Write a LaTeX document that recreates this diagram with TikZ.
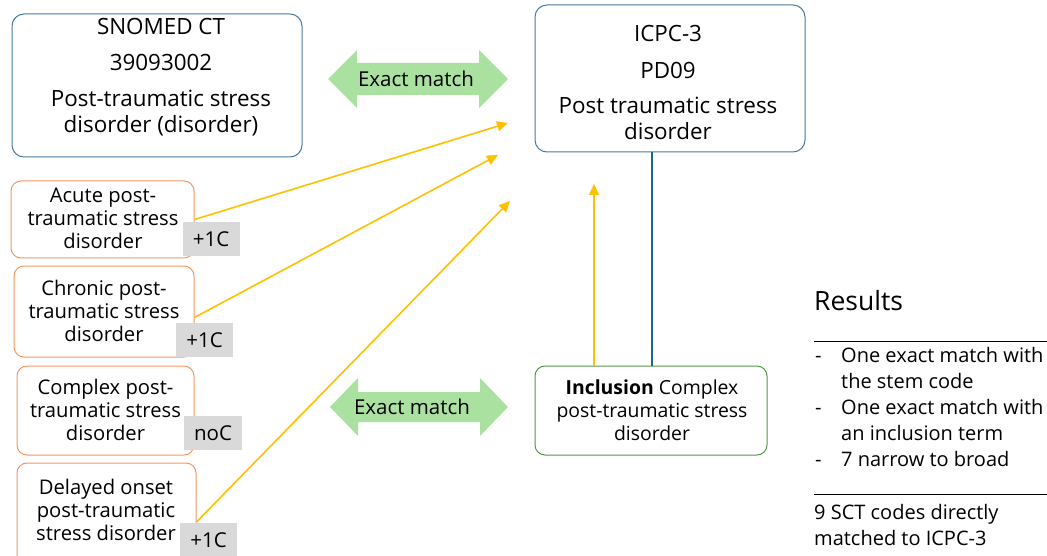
\documentclass[tikz,border=0pt]{standalone}
\usepackage{fontspec}
\setmainfont{Open Sans}
\usetikzlibrary{arrows.meta}
\definecolor{bluebd}{RGB}{72,122,160}
\definecolor{orangebd}{RGB}{242,150,100}
\definecolor{greenbd}{RGB}{84,150,72}
\definecolor{yellowar}{RGB}{255,192,0}
\definecolor{greenar}{RGB}{170,225,160}
\definecolor{tagfill}{RGB}{217,217,217}
\definecolor{linkblue}{RGB}{30,100,150}
\tikzset{
  bigbox/.style={draw=bluebd, line width=1pt, rounded corners=12pt, minimum width=#1},
  obox/.style={draw=orangebd, line width=1pt, rounded corners=10pt},
  ibox/.style={draw=greenbd, line width=1pt, rounded corners=10pt},
  tag/.style={fill=tagfill, inner sep=0pt, font=\fontsize{20.5}{23}\selectfont},
  otext/.style={align=center, inner sep=0pt, font=\fontsize{20.2}{23}\selectfont},
  btext/.style={align=center, inner sep=0pt, font=\fontsize{22.4}{26}\selectfont},
  rtext/.style={align=left, anchor=base west, inner sep=0pt, font=\fontsize{20}{26}\selectfont},
  yarrow/.style={draw=yellowar, line width=1.6pt, -{Triangle[length=11pt,width=10pt]}},
  garrow/.style={fill=greenar, draw=none},
}
\begin{document}
\begin{tikzpicture}[x=1pt,y=-1pt]
\useasboundingbox (0,0) rectangle (1047,556);

% main boxes
\node[bigbox=290pt, minimum height=143pt] (snomed) at (157,85.5) {};
\node[btext] (snomedtxt) at (161,77.5) {SNOMED CT\\[10pt]39093002\\[10pt]Post-traumatic stress\\disorder (disorder)};
\node[bigbox=270pt, minimum height=147pt] (icpc) at (670,78.5) {};
\node[btext] (icpctxt) at (668,82.5) {ICPC-3\\[11pt]PD09\\[10pt]Post traumatic stress\\disorder};

% orange boxes
\node[obox, minimum width=183pt, minimum height=77pt] (acute) at (102.5,219.5) {};
\node[otext] (acutetxt) at (103,218.5) {Acute post-\\traumatic stress\\disorder};
\node[obox, minimum width=180pt, minimum height=91pt] (chronic) at (104,311.5) {};
\node[otext] (chronictxt) at (104,311) {Chronic post-\\traumatic stress\\disorder};
\node[obox, minimum width=177pt, minimum height=89pt] (complex) at (105.5,410.5) {};
\node[otext] (complextxt) at (105.5,410) {Complex post-\\traumatic stress\\disorder};
\node[obox, minimum width=179pt, minimum height=118pt] (delayed) at (106.5,522) {};
\node[otext] (delayedtxt) at (106,510) {Delayed onset\\post-traumatic\\stress disorder};

% tags
\node[tag, minimum width=57pt, minimum height=34pt] (tag1) at (211,239) {+1C};
\node[tag, minimum width=57pt, minimum height=34pt] (tag2) at (204.5,340) {+1C};
\node[tag, minimum width=58pt, minimum height=34pt] (tag3) at (213,433) {noC};
\node[tag, minimum width=57pt, minimum height=34pt] (tag4) at (208.5,540) {+1C};

% inclusion box
\node[ibox, minimum width=232pt, minimum height=89pt] (incl) at (651,410.5) {};
\node[otext, font=\fontsize{19.4}{23}\selectfont] (incltxt) at (652,410) {\textbf{Inclusion} Complex\\post-traumatic stress\\disorder};

% green double arrows
\path[garrow] (328,79) -- (357,50) -- (357,63) -- (479,63) -- (479,50) -- (508,79) -- (479,108) -- (479,95) -- (357,95) -- (357,108) -- cycle;
\node[otext, font=\fontsize{20.5}{23}\selectfont] (em1) at (416,79) {Exact match};
\path[garrow] (330,407) -- (358,378) -- (358,392) -- (480,392) -- (480,378) -- (508,407) -- (480,436) -- (480,422) -- (358,422) -- (358,436) -- cycle;
\node[otext, font=\fontsize{20.5}{23}\selectfont] (em2) at (412,407) {Exact match};

% connectors
\coordinate (t1) at (508,123);
\coordinate (t2) at (498,155);
\coordinate (t3) at (510,201);
\coordinate (t4) at (594,184);
\coordinate (b1) at (652,0);
\draw[yarrow] (acute.east) -- (t1);
\draw[yarrow] (chronic.east) ++(0,6) -- (t2);
\draw[yarrow] (delayed.east) -- (t3);
\draw[yarrow] (incl.north -| t4) -- (t4);
\draw[draw=linkblue, line width=1.3pt] (icpc.south -| b1) -- (incl.north -| b1);

% results
\node[anchor=west, inner sep=0pt, font=\fontsize{26.5}{30}\selectfont] (res) at (814,301) {Results};
\coordinate (l1a) at (814,341);
\coordinate (l1b) at (1047,341);
\draw[line width=0.8pt] (l1a) -- (l1b);
\node[rtext] (reslist) at (815,362) {\begin{tabular}[t]{@{}p{26pt}@{}l@{}}
-&One exact match with\\
&the stem code\\
-&One exact match with\\
&an inclusion term\\
-&7 narrow to broad
\end{tabular}};
\coordinate (l2a) at (814,494);
\coordinate (l2b) at (1047,494);
\draw[line width=0.8pt] (l2a) -- (l2b);
\node[rtext] (r4) at (814,519) {\begin{tabular}[t]{@{}l@{}}9 SCT codes directly\\matched to ICPC-3\end{tabular}};
\end{tikzpicture}
\end{document}
